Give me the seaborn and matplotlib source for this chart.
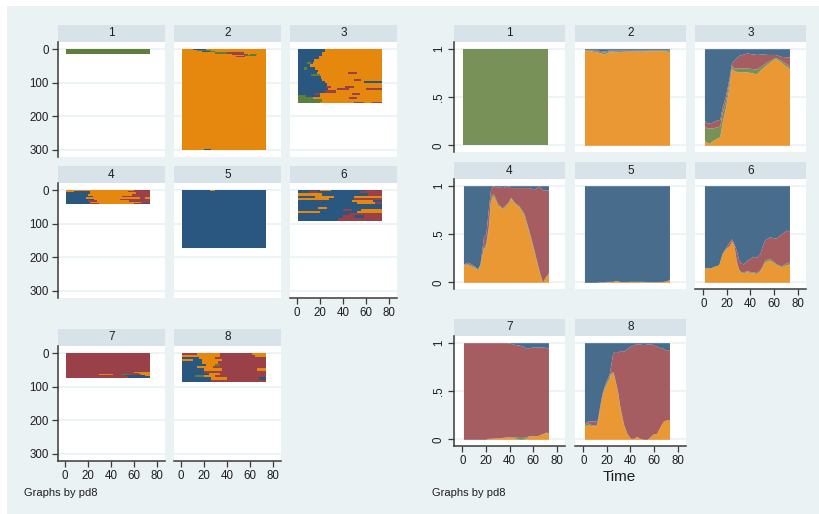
import numpy as np
import matplotlib
matplotlib.use("Agg")
import matplotlib.pyplot as plt
from matplotlib.colors import ListedColormap, BoundaryNorm
from matplotlib.patches import Rectangle
import seaborn as sns

# ---------------------------------------------------------------------------
# State codes used in the sequences
B, O, G, R = 1, 2, 3, 4          # blue, orange, green, red states
N_TIME = 73                      # observed periods 1..73
CLUSTERS = ["1", "2", "3", "4", "5", "6", "7", "8"]
X_TICKS = [0, 20, 40, 60, 80]
SEQ_Y_TICKS = [0, 100, 200, 300]
DIST_Y_TICKS = [0, 0.5, 1]
DIST_Y_LABELS = ["0", ".5", "1"]

# Sequence groups per cluster: (number of sequences, [(start period, state), ...])
seq1 = [(15, [(1, G)])]
seq2 = [
    (3, [(1, O), (10, B), (22, O)]),
    (4, [(1, O), (14, G), (26, O)]),
    (3, [(1, O), (18, B), (24, G), (30, O)]),
    (4, [(1, O), (30, G), (40, R), (55, O)]),
    (3, [(1, O), (44, R), (58, O), (60, G), (66, O)]),
    (4, [(1, O), (55, G), (65, O)]),
    (3, [(1, O), (48, R), (56, O)]),
    (272, [(1, O)]),
    (2, [(1, O), (30, G), (34, O), (60, B), (64, O)]),
    (2, [(1, O), (20, B), (26, O)]),
]
seq3 = [
    (10, [(1, B), (24, O)]),
    (12, [(1, B), (22, O)]),
    (9, [(1, B), (19, O)]),
    (8, [(1, B), (15, O)]),
    (6, [(1, B), (9, G), (12, B), (14, O)]),
    (9, [(1, B), (11, O)]),
    (7, [(1, B), (6, G), (9, B), (16, O)]),
    (8, [(1, B), (18, O)]),
    (6, [(1, B), (17, O), (44, R), (52, O)]),
    (6, [(1, B), (12, G), (20, O)]),
    (9, [(1, B), (21, O)]),
    (6, [(1, B), (22, O), (50, R), (56, O)]),
    (5, [(1, B), (24, O), (58, B)]),
    (8, [(1, B), (26, O)]),
    (7, [(1, B), (25, R), (30, O), (42, R), (50, O)]),
    (6, [(1, B), (27, O), (35, R), (45, O), (60, R)]),
    (8, [(1, B), (24, R), (34, O)]),
    (6, [(1, B), (16, R), (20, O), (48, R), (55, O)]),
    (6, [(1, G), (8, B), (20, O)]),
    (6, [(1, G), (14, O), (45, R), (52, O)]),
    (8, [(1, G), (22, O)]),
    (4, [(1, G), (20, O), (50, R), (58, O), (65, R)]),
]
seq4 = [
    (4, [(1, O), (60, R)]),
    (3, [(1, O), (8, B), (22, O), (55, R)]),
    (5, [(1, B), (22, O), (62, R)]),
    (5, [(1, B), (20, O), (58, R)]),
    (4, [(1, B), (24, O), (50, R)]),
    (5, [(1, B), (18, O), (65, R), (70, O)]),
    (4, [(1, B), (25, O), (48, R)]),
    (5, [(1, B), (20, R), (28, O), (56, R)]),
    (4, [(1, B), (22, O), (66, R)]),
    (4, [(1, B), (22, R), (30, O), (60, R), (68, B)]),
]
seq5 = [
    (2, [(1, B), (25, O), (30, B)]),
    (2, [(1, B), (40, O), (45, B), (72, O)]),
    (167, [(1, B)]),
    (2, [(1, B), (12, R), (20, B), (48, G), (52, B)]),
]
seq6 = [
    (4, [(1, B), (20, O), (30, B), (60, R)]),
    (5, [(1, B), (10, R), (18, B), (55, R)]),
    (8, [(1, O), (22, B), (62, R)]),
    (6, [(1, B), (16, O), (32, B), (50, O)]),
    (6, [(1, O), (28, B), (50, R)]),
    (8, [(1, B), (48, O), (66, B)]),
    (6, [(1, B), (52, O), (68, R)]),
    (8, [(1, B)]),
    (4, [(1, B), (18, O), (26, B)]),
    (6, [(1, B), (40, R), (48, B), (56, O)]),
    (6, [(1, O), (20, B), (52, O)]),
    (8, [(1, B), (45, R)]),
    (8, [(1, B), (40, R), (50, B), (58, R)]),
    (8, [(1, B), (36, R)]),
]
seq7 = [
    (56, [(1, R)]),
    (3, [(1, R), (60, O)]),
    (3, [(1, R), (64, O)]),
    (3, [(1, R), (30, O), (42, R), (50, G), (56, R), (66, O)]),
    (3, [(1, R), (52, B), (70, O)]),
    (5, [(1, R), (55, B)]),
]
seq8 = [
    (6, [(1, R), (14, O), (34, R), (62, O)]),
    (6, [(1, O), (34, R), (64, O)]),
    (6, [(1, B), (16, O), (30, R)]),
    (6, [(1, O), (10, B), (18, O), (36, R)]),
    (8, [(1, B), (18, O), (32, R)]),
    (6, [(1, B), (22, O), (30, G), (34, R), (38, R)]),
    (8, [(1, B), (14, O), (28, R)]),
    (6, [(1, B), (20, O), (36, R), (66, O)]),
    (8, [(1, B), (20, R)]),
    (6, [(1, B), (24, O), (34, R)]),
    (6, [(1, B), (12, G), (20, O), (30, R)]),
    (8, [(1, B), (26, O), (40, R), (68, B)]),
    (6, [(1, B), (26, R)]),
]
SEQUENCES = [seq1, seq2, seq3, seq4, seq5, seq6, seq7, seq8]

# State distribution by period (shares of orange, green, red; blue is the rest)
time1 = [1, 73]
orange1 = [0.0, 0.0]
green1 = [1.0, 1.0]
red1 = [0.0, 0.0]

time2 = [1, 5, 10, 15, 18, 21, 30, 40, 50, 60, 66, 73]
orange2 = [0.985, 0.98, 0.97, 0.955, 0.945, 0.965, 0.97, 0.975, 0.975, 0.98, 0.98, 0.97]
green2 = [0.005, 0.005, 0.01, 0.015, 0.02, 0.01, 0.01, 0.005, 0.005, 0.005, 0.005, 0.01]
red2 = [0.0, 0.005, 0.005, 0.01, 0.01, 0.01, 0.005, 0.01, 0.005, 0.005, 0.005, 0.005]

time3 = [1, 3, 5, 8, 11, 14, 16, 19, 22, 24, 26, 30, 37, 45, 50, 55, 61, 66, 71, 73]
orange3 = [0.05, 0.03, 0.02, 0.05, 0.07, 0.09, 0.24, 0.40, 0.62, 0.80, 0.77, 0.76, 0.76, 0.74, 0.80, 0.85, 0.90, 0.86, 0.81, 0.79]
green3 = [0.15, 0.15, 0.16, 0.13, 0.12, 0.11, 0.10, 0.07, 0.05, 0.03, 0.03, 0.04, 0.04, 0.05, 0.03, 0.02, 0.01, 0.02, 0.03, 0.02]
red3 = [0.06, 0.05, 0.05, 0.06, 0.07, 0.07, 0.06, 0.05, 0.04, 0.03, 0.08, 0.13, 0.155, 0.15, 0.115, 0.07, 0.03, 0.04, 0.075, 0.105]

time4 = [1, 5, 9, 13, 15, 18, 20, 22, 24, 26, 28, 30, 34, 39, 41, 44, 48, 52, 57, 61, 65, 68, 70, 73]
orange4 = [0.18, 0.18, 0.16, 0.13, 0.18, 0.35, 0.38, 0.54, 0.85, 0.90, 0.85, 0.80, 0.76, 0.82, 0.87, 0.82, 0.78, 0.70, 0.49, 0.30, 0.11, 0.0, 0.04, 0.09]
green4 = [0.01, 0.01, 0.01, 0.01, 0.01, 0.02, 0.03, 0.03, 0.03, 0.02, 0.02, 0.01, 0.01, 0.01, 0.01, 0.01, 0.01, 0.02, 0.02, 0.02, 0.01, 0.0, 0.01, 0.01]
red4 = [0.0, 0.02, 0.01, 0.0, 0.0, 0.10, 0.09, 0.18, 0.09, 0.08, 0.12, 0.18, 0.21, 0.17, 0.10, 0.15, 0.19, 0.26, 0.47, 0.64, 0.88, 0.955, 0.905, 0.855]

time5 = [1, 10, 20, 25, 28, 32, 40, 45, 50, 60, 68, 71, 73]
orange5 = [0.0, 0.0, 0.005, 0.01, 0.02, 0.005, 0.01, 0.01, 0.005, 0.005, 0.01, 0.02, 0.03]
green5 = [0.0, 0.0, 0.0, 0.0, 0.0, 0.0, 0.0, 0.0, 0.005, 0.0, 0.0, 0.0, 0.0]
red5 = [0.0, 0.0, 0.005, 0.0, 0.0, 0.0, 0.0, 0.0, 0.0, 0.0, 0.0, 0.0, 0.0]

time6 = [1, 6, 10, 13, 16, 19, 22, 24, 26, 28, 30, 32, 34, 37, 40, 42, 45, 48, 50, 52, 56, 60, 62, 66, 70, 73]
orange6 = [0.15, 0.15, 0.17, 0.18, 0.30, 0.35, 0.38, 0.43, 0.38, 0.22, 0.13, 0.10, 0.10, 0.11, 0.10, 0.10, 0.09, 0.12, 0.16, 0.21, 0.23, 0.20, 0.18, 0.16, 0.18, 0.19]
green6 = [0.0, 0.0, 0.0, 0.0, 0.0, 0.0, 0.0, 0.0, 0.0, 0.0, 0.005, 0.01, 0.01, 0.01, 0.01, 0.01, 0.01, 0.01, 0.01, 0.02, 0.02, 0.01, 0.01, 0.01, 0.02, 0.02]
red6 = [0.0, 0.0, 0.0, 0.0, 0.0, 0.01, 0.04, 0.02, 0.02, 0.11, 0.095, 0.09, 0.08, 0.11, 0.14, 0.16, 0.16, 0.17, 0.21, 0.21, 0.22, 0.25, 0.27, 0.33, 0.34, 0.32]

time7 = [1, 20, 22, 30, 38, 42, 45, 48, 51, 54, 57, 60, 64, 68, 71, 73]
orange7 = [0.0, 0.0, 0.01, 0.015, 0.025, 0.02, 0.01, 0.0, 0.0, 0.01, 0.035, 0.035, 0.04, 0.055, 0.07, 0.06]
green7 = [0.0, 0.0, 0.0, 0.0, 0.0, 0.005, 0.015, 0.02, 0.02, 0.015, 0.005, 0.0, 0.0, 0.005, 0.005, 0.005]
red7 = [1.0, 1.0, 0.99, 0.985, 0.975, 0.965, 0.955, 0.955, 0.945, 0.915, 0.91, 0.92, 0.915, 0.895, 0.875, 0.875]

time8 = [1, 4, 7, 11, 12, 14, 16, 18, 20, 22, 23, 25, 26, 29, 31, 34, 37, 40, 43, 45, 48, 51, 54, 57, 59, 62, 65, 68, 70, 73]
orange8 = [0.14, 0.15, 0.14, 0.14, 0.18, 0.32, 0.45, 0.53, 0.58, 0.63, 0.67, 0.69, 0.65, 0.49, 0.33, 0.15, 0.06, 0.01, 0.01, 0.03, 0.01, 0.0, 0.0, 0.03, 0.055, 0.06, 0.13, 0.19, 0.20, 0.20]
green8 = [0.02, 0.02, 0.01, 0.01, 0.01, 0.01, 0.01, 0.01, 0.02, 0.02, 0.02, 0.01, 0.01, 0.01, 0.01, 0.01, 0.0, 0.0, 0.0, 0.0, 0.0, 0.0, 0.0, 0.0, 0.0, 0.0, 0.0, 0.0, 0.0, 0.0]
red8 = [0.01, 0.02, 0.04, 0.04, 0.02, 0.02, 0.02, 0.02, 0.02, 0.03, 0.06, 0.20, 0.24, 0.40, 0.58, 0.75, 0.88, 0.955, 0.97, 0.96, 0.975, 0.98, 0.985, 0.96, 0.925, 0.905, 0.82, 0.75, 0.72, 0.73]

DIST_TIME = [time1, time2, time3, time4, time5, time6, time7, time8]
DIST_ORANGE = [orange1, orange2, orange3, orange4, orange5, orange6, orange7, orange8]
DIST_GREEN = [green1, green2, green3, green4, green5, green6, green7, green8]
DIST_RED = [red1, red2, red3, red4, red5, red6, red7, red8]

# ---------------------------------------------------------------------------
# Style
sns.set_theme(style="white")
plt.rcParams["font.family"] = ["Liberation Sans", "DejaVu Sans"]
plt.rcParams["axes.linewidth"] = 1.0

BG = "#EAF2F3"
STRIP = "#D7E3E9"
AXIS = "#3A3A3A"
TXT = "#1E1E1E"
SEQ_COLORS = ["#ffffff", "#2A5780", "#E6880E", "#5E7E3C", "#9A4049"]
DIST_BLUE, DIST_ORANGE_C, DIST_GREEN_C, DIST_RED_C = "#486C8C", "#E99833", "#779159", "#A65D62"

W, H = 820, 514
fig = plt.figure(figsize=(W / 100, H / 100), dpi=100, facecolor="white")
fig.add_artist(Rectangle((7 / W, 0), 1 - 7 / W, 1 - 6 / H, transform=fig.transFigure,
                         facecolor=BG, edgecolor="none", zorder=-10))


def box(x0, y0, x1, y1):
    """Pixel box (origin top-left) to figure fraction rectangle."""
    return [x0 / W, 1 - y1 / H, (x1 - x0) / W, (y1 - y0) / H]


def make_panel(x0, width, strip_top, strip_h, plot_h, title):
    sax = fig.add_axes(box(x0, strip_top, x0 + width, strip_top + strip_h))
    sax.set_facecolor(STRIP)
    sax.set_xticks([])
    sax.set_yticks([])
    sns.despine(ax=sax, left=True, bottom=True)
    sax.text(0.5, 0.5, title, ha="center", va="center", fontsize=8.5, color=TXT,
             transform=sax.transAxes)
    ax = fig.add_axes(box(x0, strip_top + strip_h, x0 + width, strip_top + strip_h + plot_h))
    ax.set_facecolor("white")
    return ax


def style_axes(ax, show_left, show_bottom):
    sns.despine(ax=ax, top=True, right=True, left=not show_left, bottom=not show_bottom)
    for side in ("left", "bottom"):
        ax.spines[side].set_color(AXIS)
        ax.spines[side].set_linewidth(1.1)
    ax.tick_params(axis="both", which="both", length=4.5, width=0.9, color=AXIS,
                   labelsize=8.3, labelcolor=TXT, pad=2)
    ax.tick_params(axis="y", left=show_left, labelleft=show_left)
    ax.tick_params(axis="x", bottom=show_bottom, labelbottom=show_bottom)


def build_matrix(groups):
    rows = []
    for count, spells in groups:
        row = np.zeros(N_TIME, dtype=int)
        for start, state in spells:
            row[start - 1:] = state
        rows.extend([row] * count)
    return np.array(rows)


cmap = ListedColormap(SEQ_COLORS)
norm = BoundaryNorm(np.arange(-0.5, 5.5, 1), cmap.N)

left_cols = [58, 174, 290]
left_rows = [25, 166, 329]
right_cols = [454, 575, 695]
right_rows = [25, 162, 319]

for k, name in enumerate(CLUSTERS):
    r, c = divmod(k, 3)
    show_left = c == 0
    show_bottom = k >= 5

    # Sequence index plot
    ax = make_panel(left_cols[c], 107, left_rows[r], 17, 115, name)
    for v in SEQ_Y_TICKS:
        ax.axhline(v, color=BG, lw=1.2, zorder=0)
    mat = build_matrix(SEQUENCES[k])
    ax.pcolormesh(np.arange(1, N_TIME + 2), np.arange(0, mat.shape[0] + 1), mat,
                  cmap=cmap, norm=norm, shading="flat", antialiased=False, zorder=2)
    ax.set_xlim(-6.1, 87)
    ax.set_ylim(320.8, -20.8)
    ax.set_xticks(X_TICKS)
    ax.set_yticks(SEQ_Y_TICKS)
    style_axes(ax, show_left, show_bottom)

    # State distribution plot
    ax2 = make_panel(right_cols[c], 111, right_rows[r], 17, 110, name)
    for v in DIST_Y_TICKS:
        ax2.axhline(v, color=BG, lw=1.2, zorder=0)
    t = np.array(DIST_TIME[k], dtype=float)
    o = np.array(DIST_ORANGE[k])
    g = np.array(DIST_GREEN[k])
    rd = np.array(DIST_RED[k])
    bl = np.clip(1 - o - g - rd, 0, None)
    ax2.stackplot(t, o, g, rd, bl, colors=[DIST_ORANGE_C, DIST_GREEN_C, DIST_RED_C, DIST_BLUE],
                  linewidth=0, zorder=2)
    ax2.set_xlim(-7, 87)
    ax2.set_ylim(-0.069, 1.069)
    ax2.set_xticks(X_TICKS)
    ax2.set_yticks(DIST_Y_TICKS)
    ax2.set_yticklabels(DIST_Y_LABELS)
    style_axes(ax2, show_left, show_bottom)
    if show_left:
        for lab in ax2.get_yticklabels():
            lab.set_rotation(90)
            lab.set_va("center")

fig.text(619 / W, 1 - 477 / H, "Time", ha="center", va="center", fontsize=11, color=TXT)
fig.text(24 / W, 1 - 493 / H, "Graphs by pd8", ha="left", va="center", fontsize=8, color=TXT)
fig.text(432 / W, 1 - 493 / H, "Graphs by pd8", ha="left", va="center", fontsize=8, color=TXT)

fig.savefig("out.png", dpi=100, facecolor="white")
